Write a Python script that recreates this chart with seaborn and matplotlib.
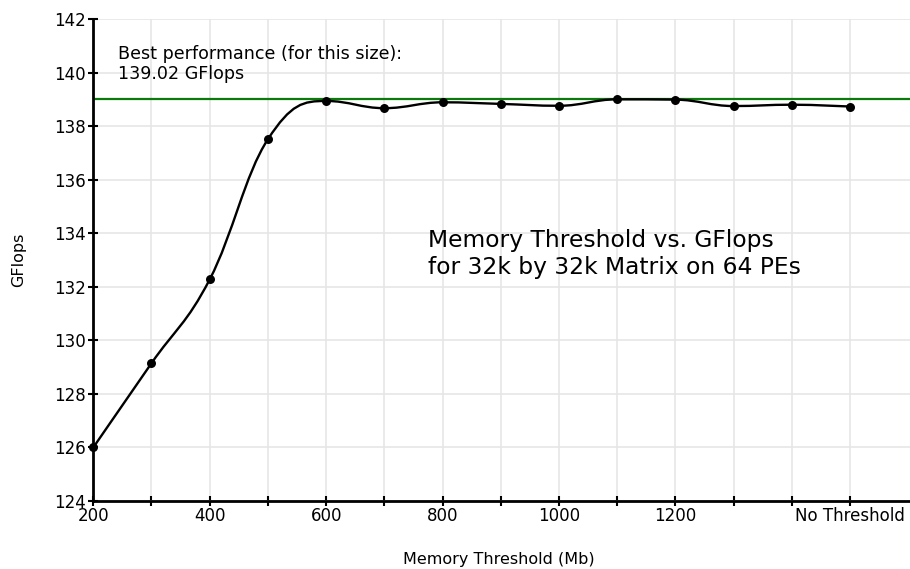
import numpy as np
import matplotlib
matplotlib.use('Agg')
import matplotlib.pyplot as plt
import seaborn as sns
from matplotlib.path import Path
from matplotlib.patches import PathPatch

# memory threshold (Mb); the last slot is the "No Threshold" run
mem_threshold = [200, 300, 400, 500, 600, 700, 800, 900, 1000, 1100, 1200, 1300, 1400, 1500]
gflops = [126.0, 129.15, 132.28, 137.52, 138.95, 138.68, 138.9, 138.84,
          138.77, 139.01, 139.0, 138.76, 138.81, 138.74]
tick_labels = ['200', '', '400', '', '600', '', '800', '', '1000', '', '1200', '', '', 'No Threshold']
best_gflops = 139.02


def spline_path(xs, ys, smoothing=1.5):
    # smooth curve through the points (control points clamped so no big overshoot)
    xs = np.asarray(xs, dtype=float)
    ys = np.asarray(ys, dtype=float)
    n = len(xs)
    left = [(xs[i], ys[i]) for i in range(n)]
    right = [(xs[i], ys[i]) for i in range(n)]
    d = smoothing + 1
    for i in range(1, n - 1):
        x, y = xs[i], ys[i]
        lx, ly = xs[i - 1], ys[i - 1]
        nx, ny = xs[i + 1], ys[i + 1]
        lcx, lcy = (smoothing * x + lx) / d, (smoothing * y + ly) / d
        rcx, rcy = (smoothing * x + nx) / d, (smoothing * y + ny) / d
        if rcx != lcx:
            corr = (rcy - lcy) * (rcx - x) / (rcx - lcx) + y - rcy
            lcy += corr
            rcy += corr
        if lcy > max(ly, y):
            lcy = max(ly, y)
            rcy = 2 * y - lcy
        elif lcy < min(ly, y):
            lcy = min(ly, y)
            rcy = 2 * y - lcy
        if rcy > max(y, ny):
            rcy = max(y, ny)
            lcy = 2 * y - rcy
        elif rcy < min(y, ny):
            rcy = min(y, ny)
            lcy = 2 * y - rcy
        left[i] = (lcx, lcy)
        right[i] = (rcx, rcy)
    verts = [(xs[0], ys[0])]
    codes = [Path.MOVETO]
    for i in range(n - 1):
        verts += [right[i], left[i + 1], (xs[i + 1], ys[i + 1])]
        codes += [Path.CURVE4] * 3
    return Path(verts, codes)


sns.set_style('white')
plt.rcParams['font.family'] = ['DejaVu Sans']
plt.rcParams['text.color'] = 'black'
plt.rcParams['axes.labelcolor'] = 'black'
plt.rcParams['xtick.color'] = 'black'
plt.rcParams['ytick.color'] = 'black'

fig = plt.figure(figsize=(9.1, 5.69), dpi=100)
ax = fig.add_axes([0.1025, 0.1195, 0.8975, 0.8465])

ax.set_xlim(200, 1603)
ax.set_ylim(124, 142)

ax.grid(True, color='#e6e6e6', linewidth=1.2)
ax.set_axisbelow(True)

ax.axhline(best_gflops, color='#0a7a0a', linewidth=1.6, zorder=2)

ax.add_patch(PathPatch(spline_path(mem_threshold, gflops), fill=False,
                       edgecolor='black', linewidth=1.7, zorder=3))
sns.scatterplot(x=mem_threshold, y=gflops, color='black', s=42,
                edgecolor='black', linewidth=0, zorder=4, clip_on=False, ax=ax)

ax.set_xticks(mem_threshold)
ax.set_xticklabels(tick_labels, fontsize=12)
ax.set_yticks(np.arange(124, 143, 2))
ax.tick_params(axis='y', left=True, labelsize=12, direction='inout', length=7, width=1.5, pad=2)
ax.tick_params(axis='x', bottom=True, direction='inout', length=7, width=1.5, pad=1)

for side in ['top', 'right']:
    ax.spines[side].set_visible(False)
for side in ['left', 'bottom']:
    ax.spines[side].set_color('black')
    ax.spines[side].set_linewidth(2)

ax.set_xlabel('Memory Threshold (Mb)', fontsize=11.5)
ax.set_ylabel('GFlops', fontsize=11.5)
ax.xaxis.set_label_coords(0.497, -0.106)
ax.yaxis.set_label_coords(-0.082, 0.5)

ax.text(243, 141.05, 'Best performance (for this size):\n139.02 GFlops',
        fontsize=12.6, va='top', ha='left', linespacing=1.15)
ax.text(775, 134.15, 'Memory Threshold vs. GFlops\nfor 32k by 32k Matrix on 64 PEs',
        fontsize=16.8, va='top', ha='left', linespacing=1.2)

fig.savefig('out.png', dpi=100)
